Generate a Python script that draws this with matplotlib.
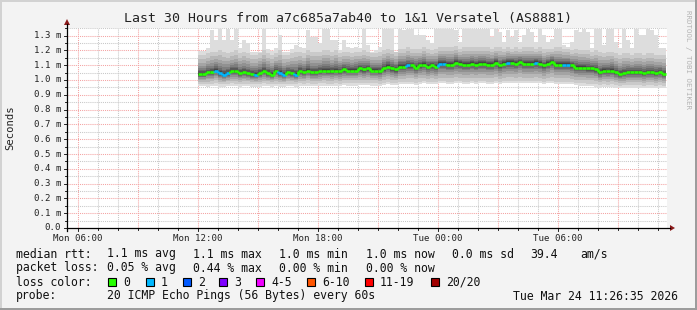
import numpy as np
import matplotlib
matplotlib.use("Agg")
import matplotlib.pyplot as plt
from matplotlib.lines import Line2D
from matplotlib.patches import Rectangle, Polygon

# ---------------- data ----------------
title = "Last 30 Hours from a7c685a7ab40 to 1&1 Versatel (AS8881)"
x_tick_hours = [6, 12, 18, 24, 30]
x_tick_labels = ["Mon 06:00", "Mon 12:00", "Mon 18:00", "Tue 00:00", "Tue 06:00"]
y_ticks = [0.0, 0.1, 0.2, 0.3, 0.4, 0.5, 0.6, 0.7, 0.8, 0.9, 1.0, 1.1, 1.2, 1.3]
y_tick_labels = ["0.0", "0.1 m", "0.2 m", "0.3 m", "0.4 m", "0.5 m", "0.6 m",
                 "0.7 m", "0.8 m", "0.9 m", "1.0 m", "1.1 m", "1.2 m", "1.3 m"]

view_start_h = 5.443      # Mon 05:26:35 (hours after Mon 00:00)
view_span_h = 30.0
data_start_h = 12.0       # Mon 12:00
step_h = 0.2              # 12 minute steps

# median rtt (ms) per step
median = [1.038, 1.038, 1.051, 1.051, 1.064, 1.044, 1.035, 1.044, 1.058, 1.058,
          1.044, 1.051, 1.044, 1.038, 1.035, 1.044, 1.058, 1.044, 1.035, 1.058,
          1.044, 1.035, 1.051, 1.044, 1.035, 1.058, 1.051, 1.064, 1.051,
          1.051, 1.058, 1.064, 1.064, 1.058, 1.064, 1.058, 1.071, 1.064, 1.064,
          1.064, 1.078, 1.071, 1.078, 1.064, 1.064, 1.058, 1.078, 1.091, 1.078,
          1.071, 1.091, 1.091, 1.098, 1.098, 1.084, 1.098, 1.104, 1.091, 1.098,
          1.091, 1.111, 1.111, 1.104, 1.104, 1.118, 1.111, 1.104, 1.104, 1.111,
          1.104, 1.111, 1.111, 1.104, 1.104, 1.118, 1.098, 1.111, 1.118, 1.118,
          1.111, 1.124, 1.111, 1.111, 1.111, 1.118, 1.111, 1.098, 1.111, 1.124,
          1.104, 1.104, 1.104, 1.104, 1.098, 1.084, 1.084, 1.084, 1.078, 1.078,
          1.071, 1.051, 1.064, 1.058, 1.064, 1.051, 1.038, 1.044, 1.051, 1.051,
          1.051, 1.051, 1.044, 1.051, 1.051, 1.044, 1.051, 1.038]

# lost pings (of 20) per step
loss = [0, 0, 0, 0, 1, 1, 1, 1, 0, 0, 0, 0, 0, 0, 1, 0, 0, 0, 0, 0,
        1, 1, 0, 0, 1, 0, 0, 0, 0,
        0, 0, 0, 0, 0, 0, 0, 0, 0, 0, 0, 0, 0, 0, 0, 0, 0, 0, 0, 0,
        0, 0, 0, 1, 0, 0, 0, 0, 0, 0,
        0, 1, 1, 0, 0, 0, 0, 0, 0, 0, 0, 0, 0, 0, 0, 0, 0, 0, 1, 0,
        0, 0, 0, 0, 0, 1, 0, 0, 0, 0,
        0, 0, 1, 1, 0, 0, 0, 0, 0, 0, 0, 0, 0, 0, 0, 0, 0, 0, 0, 0,
        0, 0, 0, 0, 0, 0, 0, 0]

# slowest ping per step (ms)
ping_max = [1.196, 1.196, 1.213, 1.336, 1.269, 1.342, 1.269, 1.342, 1.269, 1.342,
            1.218, 1.269, 1.247, 1.191, 1.191, 1.191, 1.342, 1.209, 1.196, 1.218,
            1.302, 1.191, 1.187, 1.209, 1.236, 1.224, 1.218, 1.336, 1.291,
            1.291, 1.247, 1.342, 1.342, 1.269, 1.269, 1.202, 1.269, 1.224, 1.213,
            1.224, 1.213, 1.342, 1.236, 1.191, 1.202, 1.224, 1.342, 1.342, 1.342,
            1.191, 1.342, 1.336, 1.342, 1.342, 1.302, 1.302, 1.302, 1.269, 1.247,
            1.342, 1.342, 1.342, 1.342, 1.342, 1.336, 1.258, 1.342, 1.342, 1.342,
            1.342, 1.342, 1.342, 1.342, 1.291, 1.342, 1.324, 1.258, 1.336, 1.291,
            1.336, 1.258, 1.302, 1.342, 1.324, 1.258, 1.342, 1.302, 1.258, 1.280,
            1.342, 1.342, 1.236, 1.224, 1.258, 1.336, 1.324, 1.342, 1.324, 1.213,
            1.342, 1.342, 1.236, 1.342, 1.342, 1.258, 1.213, 1.342, 1.269, 1.213,
            1.342, 1.302, 1.302, 1.342, 1.336, 1.302, 1.213, 1.213]

# second slowest ping per step (ms)
ping_hi2 = [1.17, 1.17, 1.18, 1.19, 1.19, 1.20, 1.19, 1.18, 1.19, 1.20,
            1.18, 1.19, 1.18, 1.17, 1.17, 1.18, 1.20, 1.18, 1.17, 1.18,
            1.20, 1.17, 1.17, 1.18, 1.19, 1.19, 1.18, 1.20, 1.19,
            1.19, 1.19, 1.20, 1.20, 1.19, 1.20, 1.18, 1.19, 1.19, 1.18,
            1.19, 1.19, 1.20, 1.19, 1.18, 1.18, 1.19, 1.20, 1.21, 1.20,
            1.19, 1.21, 1.21, 1.22, 1.21, 1.21, 1.21, 1.22, 1.21, 1.20,
            1.21, 1.22, 1.22, 1.22, 1.22, 1.23, 1.21, 1.22, 1.22, 1.22,
            1.22, 1.22, 1.22, 1.22, 1.21, 1.22, 1.22, 1.21, 1.22, 1.21,
            1.22, 1.21, 1.22, 1.22, 1.22, 1.21, 1.22, 1.21, 1.21, 1.21,
            1.22, 1.22, 1.21, 1.21, 1.20, 1.21, 1.20, 1.20, 1.20, 1.19,
            1.20, 1.19, 1.18, 1.19, 1.19, 1.18, 1.17, 1.18, 1.18, 1.17,
            1.18, 1.18, 1.17, 1.18, 1.18, 1.17, 1.17, 1.17]

# second fastest ping per step (ms)
ping_lo2 = [0.975, 0.975, 0.972, 0.975, 0.978, 0.972, 0.970, 0.975, 0.978, 0.975,
            0.972, 0.975, 0.975, 0.972, 0.970, 0.972, 0.978, 0.975, 0.972, 0.975,
            0.972, 0.970, 0.975, 0.975, 0.972, 0.978, 0.975, 0.978, 0.975,
            0.975, 0.978, 0.978, 0.975, 0.975, 0.978, 0.975, 0.980, 0.978, 0.978,
            0.978, 0.982, 0.980, 0.982, 0.978, 0.978, 0.975, 0.982, 0.985, 0.982,
            0.980, 0.985, 0.985, 0.988, 0.988, 0.982, 0.988, 0.990, 0.985, 0.988,
            0.985, 0.990, 0.990, 0.988, 0.988, 0.992, 0.990, 0.988, 0.988, 0.990,
            0.988, 0.990, 0.990, 0.988, 0.988, 0.992, 0.985, 0.990, 0.992, 0.992,
            0.990, 0.992, 0.990, 0.990, 0.990, 0.992, 0.990, 0.985, 0.990, 0.992,
            0.988, 0.988, 0.988, 0.988, 0.985, 0.980, 0.978, 0.978, 0.975, 0.975,
            0.972, 0.965, 0.970, 0.968, 0.970, 0.965, 0.962, 0.965, 0.965, 0.965,
            0.965, 0.965, 0.962, 0.965, 0.965, 0.962, 0.965, 0.962]

# fastest ping per step (ms)
ping_min = [0.958, 0.958, 0.955, 0.958, 0.962, 0.955, 0.952, 0.958, 0.962, 0.958,
            0.955, 0.958, 0.958, 0.955, 0.952, 0.955, 0.962, 0.958, 0.955, 0.958,
            0.955, 0.952, 0.958, 0.958, 0.955, 0.962, 0.958, 0.962, 0.958,
            0.958, 0.962, 0.962, 0.958, 0.958, 0.962, 0.958, 0.965, 0.962, 0.962,
            0.962, 0.968, 0.965, 0.968, 0.962, 0.962, 0.958, 0.968, 0.972, 0.968,
            0.965, 0.972, 0.972, 0.975, 0.975, 0.968, 0.975, 0.978, 0.972, 0.975,
            0.972, 0.978, 0.978, 0.975, 0.975, 0.980, 0.978, 0.975, 0.975, 0.978,
            0.975, 0.978, 0.978, 0.975, 0.975, 0.980, 0.972, 0.978, 0.980, 0.980,
            0.978, 0.980, 0.978, 0.978, 0.978, 0.980, 0.978, 0.972, 0.978, 0.980,
            0.975, 0.975, 0.975, 0.975, 0.972, 0.965, 0.962, 0.962, 0.958, 0.958,
            0.955, 0.948, 0.952, 0.950, 0.952, 0.948, 0.945, 0.948, 0.948, 0.948,
            0.948, 0.948, 0.945, 0.948, 0.948, 0.945, 0.948, 0.945]

legend_rtt = ["1.1 ms avg", "1.1 ms max", "1.0 ms min", "1.0 ms now", "0.0 ms sd", "39.4", "am/s"]
legend_loss = ["0.05 % avg", "0.44 % max", "0.00 % min", "0.00 % now"]
loss_labels = ["0", "1", "2", "3", "4-5", "6-10", "11-19", "20/20"]
loss_colors = ["#26ff00", "#00b8ff", "#0059ff", "#7e00ff", "#f000ff", "#ff5500", "#ff0000", "#a10000"]
probe_text = "20 ICMP Echo Pings (56 Bytes) every 60s"
stamp_text = "Tue Mar 24 11:26:35 2026"

# ---------------- figure ----------------
W, H = 697, 310
fig = plt.figure(figsize=(W / 100, H / 100), dpi=100)
fig.patch.set_facecolor("#f3f3f3")

def fx(x):
    return x / W

def fy(y):
    return 1 - y / H

PL, PR, PT, PB = 67, 667, 28, 228
ax = fig.add_axes([fx(PL), fy(PB), (PR - PL) / W, (PB - PT) / H])
ax.set_facecolor("white")
ymax = (PB - PT) / 148.0
ax.set_xlim(view_start_h, view_start_h + view_span_h)
ax.set_ylim(0, ymax)
for s in ax.spines.values():
    s.set_visible(False)
ax.set_xticks([])
ax.set_yticks([])

# grid
dot = (0, (1, 1))
for h in range(6, 36):
    major = (h % 3 == 0)
    ax.axvline(h, color="#f4a3a3" if major else "#c8c8c8", lw=0.75, ls=dot, zorder=1)
for k in range(1, 28):
    v = k * 0.05
    if v > ymax:
        break
    major = (k % 2 == 0)
    ax.axhline(v, color="#f4a3a3" if major else "#c8c8c8", lw=0.75, ls=dot, zorder=1)

# ---------------- smoke ----------------
n = len(median)
t = data_start_h + step_h * np.arange(n + 1)
med = np.array(median)
hi1 = np.array(ping_max)
hi2 = np.array(ping_hi2)
lo2 = np.array(ping_lo2)
lo1 = np.array(ping_min)

def band(lo, hi, color):
    ax.fill_between(t, np.append(lo, lo[-1]), np.append(hi, hi[-1]), step="post",
                    color=color, lw=0, zorder=2)

band(lo1, hi1, "#dddddd")
band(lo2, hi2, "#cacaca")
fracs = [0.78, 0.6, 0.45, 0.33, 0.23, 0.15, 0.09, 0.045]
greys = [183, 164, 145, 126, 107, 88, 69, 50]
for f, g in zip(fracs, greys):
    band(med - (med - lo2) * f, med + (hi2 - med) * f, "#%02x%02x%02x" % (g, g, g))

# median line coloured by loss
def lcolor(l):
    if l <= 0:
        return loss_colors[0]
    if l == 1:
        return loss_colors[1]
    if l == 2:
        return loss_colors[2]
    if l == 3:
        return loss_colors[3]
    if l <= 5:
        return loss_colors[4]
    if l <= 10:
        return loss_colors[5]
    if l <= 19:
        return loss_colors[6]
    return loss_colors[7]

for i in range(n):
    c = lcolor(loss[i])
    ax.plot([t[i], t[i + 1]], [med[i], med[i]], color=c, lw=1.9, solid_capstyle="butt", zorder=4)
    if i > 0 and med[i] != med[i - 1]:
        ax.plot([t[i], t[i]], [med[i - 1], med[i]], color=c, lw=1.9, solid_capstyle="butt", zorder=4)

# ---------------- axes lines / arrows ----------------
fig.add_artist(Line2D([fx(PL), fx(670)], [fy(PB), fy(PB)], color="black", lw=0.9))
fig.add_artist(Line2D([fx(PL), fx(PL)], [fy(PB + 3), fy(24)], color="black", lw=0.9))
fig.add_artist(Polygon([[fx(670), fy(PB - 3)], [fx(670), fy(PB + 3)], [fx(675), fy(PB)]],
                       closed=True, color="#8b1a1a", lw=0))
fig.add_artist(Polygon([[fx(PL - 3), fy(25)], [fx(PL + 3), fy(25)], [fx(PL), fy(19)]],
                       closed=True, color="#8b1a1a", lw=0))

# tick marks
for h in range(6, 36):
    xp = PL + (h - view_start_h) * 20.0
    ln = 3 if h % 6 == 0 else 2
    fig.add_artist(Line2D([fx(xp), fx(xp)], [fy(PB), fy(PB + ln)], color="black", lw=0.6))
for k in range(0, 28):
    yp = PB - k * 0.05 * 148.0
    if yp < PT:
        break
    ln = 3 if k % 2 == 0 else 2
    fig.add_artist(Line2D([fx(PL - ln), fx(PL)], [fy(yp), fy(yp)], color="black", lw=0.6))

mono = "DejaVu Sans Mono"
# tick labels
for h, lab in zip(x_tick_hours, x_tick_labels):
    xp = PL + (h - view_start_h) * 20.0
    fig.text(fx(xp), fy(238.5), lab, ha="center", va="center", family=mono, fontsize=6.6, color="#222222")
for v, lab in zip(y_ticks, y_tick_labels):
    yp = PB - v * 148.0
    fig.text(fx(61), fy(yp), lab, ha="right", va="center", family=mono, fontsize=6.6, color="#222222")

fig.text(fx(10), fy(128), "Seconds", rotation=90, ha="center", va="center", family=mono,
         fontsize=7.6, color="#222222")
fig.text(fx(348), fy(18.5), title, ha="center", va="center", family=mono, fontsize=9.5, color="#222222")
fig.text(fx(688), fy(60), "RRDTOOL / TOBI OETIKER", rotation=-90, ha="center", va="center",
         family=mono, fontsize=5.4, color="#b4b4b4")

# ---------------- legend ----------------
lf = 8.3
row_y = [254, 268, 282, 296]
fig.text(fx(16), fy(row_y[0]), "median rtt:", ha="left", va="center", family=mono, fontsize=lf, color="#111111")
for xp, s in zip([107, 193, 279, 366, 452, 530, 580], legend_rtt):
    fig.text(fx(xp), fy(row_y[0]), s, ha="left", va="center", family=mono, fontsize=lf, color="#111111")
fig.text(fx(16), fy(row_y[1]), "packet loss:", ha="left", va="center", family=mono, fontsize=lf, color="#111111")
for xp, s in zip([107, 193, 279, 366], legend_loss):
    fig.text(fx(xp), fy(row_y[1]), s, ha="left", va="center", family=mono, fontsize=lf, color="#111111")
fig.text(fx(16), fy(row_y[2]), "loss color:", ha="left", va="center", family=mono, fontsize=lf, color="#111111")
box_x = [108, 146, 183, 219, 256, 307, 365, 431]
for bx, lab, col in zip(box_x, loss_labels, loss_colors):
    fig.add_artist(Rectangle((fx(bx), fy(row_y[2] + 4)), 8 / W, 8 / H, facecolor=col,
                             edgecolor="black", lw=0.8))
    fig.text(fx(bx + 15), fy(row_y[2]), lab, ha="left", va="center", family=mono, fontsize=lf, color="#111111")
fig.text(fx(16), fy(row_y[3]), "probe:", ha="left", va="center", family=mono, fontsize=lf, color="#111111")
fig.text(fx(107), fy(row_y[3]), probe_text, ha="left", va="center", family=mono, fontsize=lf, color="#111111")
fig.text(fx(513), fy(row_y[3]), stamp_text, ha="left", va="center", family=mono, fontsize=lf, color="#111111")

# border
fig.add_artist(Rectangle((0, 1 - 2 / H), 1, 2 / H, facecolor="#d2d2d2", lw=0))
fig.add_artist(Rectangle((0, 0), 2 / W, 1, facecolor="#d2d2d2", lw=0))
fig.add_artist(Rectangle((0, 0), 1, 2 / H, facecolor="#9c9c9c", lw=0))
fig.add_artist(Rectangle((1 - 2 / W, 0), 2 / W, 1, facecolor="#9c9c9c", lw=0))

fig.savefig("out.png", dpi=100, facecolor=fig.get_facecolor())
